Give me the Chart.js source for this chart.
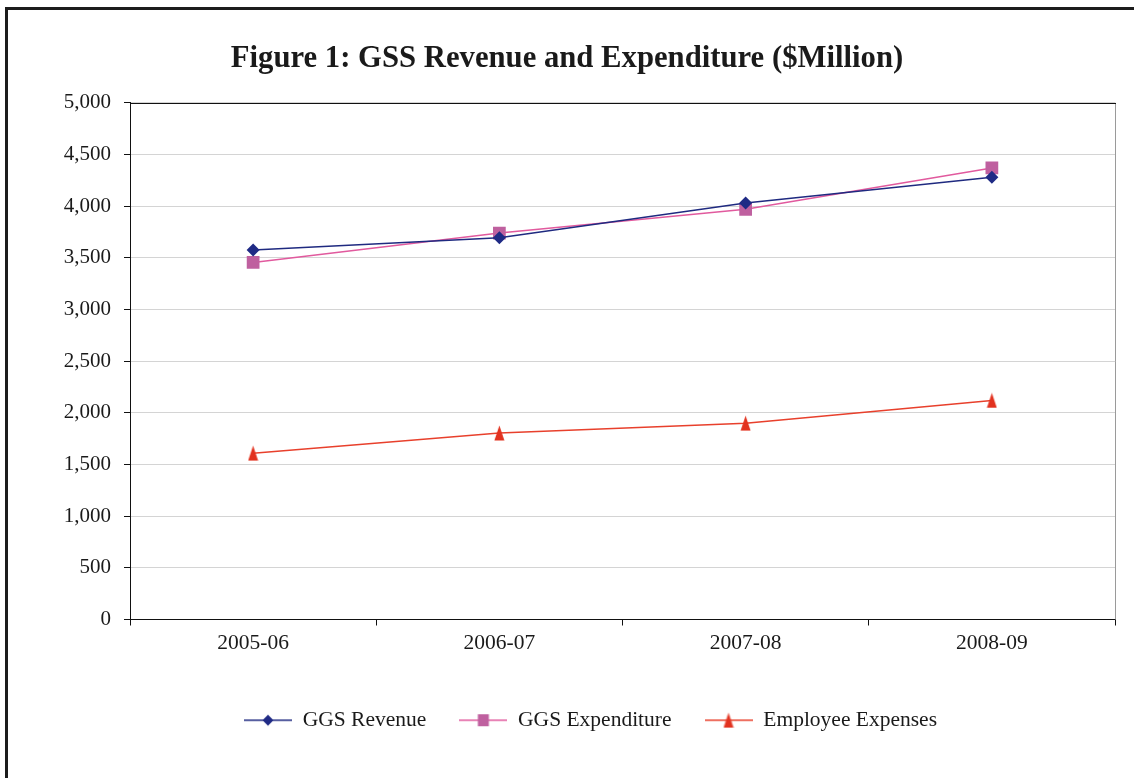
<!DOCTYPE html>
<html>
<head>
<meta charset="utf-8">
<script src="https://cdn.jsdelivr.net/npm/chart.js@4/dist/chart.umd.min.js"></script>
<style>
  html, body { margin: 0; padding: 0; background: #fff; }
  #wrap { position: relative; width: 1134px; height: 778px; overflow: hidden; }
  #frame { position: absolute; left: 5px; top: 7px; width: 1200px; height: 800px;
           border-left: 3px solid #1c1c1c; border-top: 3px solid #1c1c1c; }
  canvas { position: absolute; left: 0; top: 0; }
</style>
</head>
<body>
<div id="wrap">
  <div id="frame"></div>
  <canvas id="chart" width="1134" height="778"></canvas>
</div>
<script>
// Financial years on the horizontal axis
const years = ['2005-06', '2006-07', '2007-08', '2008-09'];

// $ million
const ggsRevenue = [3575, 3695, 4030, 4280];
const ggsExpenditure = [3455, 3740, 3970, 4370];
const employeeExpenses = [1610, 1805, 1900, 2120];

const seriesNames = ['GGS Revenue', 'GGS Expenditure', 'Employee Expenses'];

const FONT = '"Liberation Serif", "DejaVu Serif", serif';
const TEXT = '#1a1a1a';

// Tall, narrow triangle marker
function triangleMarker(color) {
  const c = document.createElement('canvas');
  c.width = 11; c.height = 16;
  const g = c.getContext('2d');
  g.fillStyle = color;
  g.beginPath();
  g.moveTo(5.5, 0.5); g.lineTo(10.5, 15.5); g.lineTo(0.5, 15.5); g.closePath();
  g.fill();
  return c;
}

// Legend swatch: short line with the marker in the middle
function legendSwatch(lineColor, drawMarker) {
  const c = document.createElement('canvas');
  c.width = 48; c.height = 16;
  const g = c.getContext('2d');
  g.strokeStyle = lineColor;
  g.lineWidth = 1.5;
  g.beginPath(); g.moveTo(0, 8); g.lineTo(48, 8); g.stroke();
  drawMarker(g, 24, 8);
  return c;
}

const triRed = triangleMarker('#e2321f');

const swatches = [
  legendSwatch('#1f2a80', (g, x, y) => {
    g.fillStyle = '#1f2a85';
    g.beginPath(); g.moveTo(x - 5.5, y); g.lineTo(x, y - 5.5); g.lineTo(x + 5.5, y); g.lineTo(x, y + 5.5); g.closePath(); g.fill();
  }),
  legendSwatch('#e15a9e', (g, x, y) => {
    g.fillStyle = '#bf609f';
    g.fillRect(x - 5.5, y - 6, 11, 12);
  }),
  legendSwatch('#e8402c', (g, x, y) => {
    g.drawImage(triRed, x - 5.5, y - 8);
  })
];

// Horizontal nudges for the title and legend blocks
const blockShift = {
  id: 'blockShift',
  afterLayout(chart) {
    if (chart.titleBlock) { chart.titleBlock.left += 9.5; chart.titleBlock.right += 9.5; }
    if (chart.legend) { chart.legend.left += 33; chart.legend.right += 33; }
  }
};

// Plot frame and dark top edge
const plotFrame = {
  id: 'plotFrame',
  afterDatasetsDraw(chart) {
    const { ctx, chartArea: a } = chart;
    ctx.save();
    ctx.strokeStyle = '#9a9a9a';
    ctx.lineWidth = 1;
    ctx.beginPath();
    ctx.moveTo(Math.round(a.right) + 0.5, a.top);
    ctx.lineTo(Math.round(a.right) + 0.5, a.bottom);
    ctx.stroke();
    ctx.strokeStyle = '#111';
    ctx.beginPath();
    ctx.moveTo(a.left, Math.round(a.top) + 0.5);
    ctx.lineTo(a.right + 1, Math.round(a.top) + 0.5);
    ctx.stroke();
    ctx.restore();
  }
};

new Chart(document.getElementById('chart'), {
  type: 'line',
  data: {
    labels: years,
    datasets: [
      {
        label: seriesNames[0],
        data: ggsRevenue,
        borderColor: '#1f2a80',
        backgroundColor: '#1f2a85',
        borderWidth: 1.5,
        pointStyle: 'rectRot',
        pointRadius: 6.5,
        pointBorderWidth: 0,
        pointHoverRadius: 6.5,
        tension: 0
      },
      {
        label: seriesNames[1],
        data: ggsExpenditure,
        borderColor: '#e15a9e',
        backgroundColor: '#bf609f',
        borderWidth: 1.5,
        pointStyle: 'rect',
        pointRadius: 9,
        pointBorderWidth: 0,
        pointHoverRadius: 9,
        tension: 0
      },
      {
        label: seriesNames[2],
        data: employeeExpenses,
        borderColor: '#e8402c',
        backgroundColor: '#e2321f',
        borderWidth: 1.5,
        pointStyle: triRed,
        pointRadius: 8,
        pointBorderWidth: 0,
        tension: 0
      }
    ]
  },
  options: {
    responsive: false,
    animation: false,
    events: [],
    layout: { padding: { left: 0, right: 19, top: 0, bottom: 37 } },
    plugins: {
      title: {
        display: true,
        text: 'Figure 1: GSS Revenue and Expenditure ($Million)',
        color: TEXT,
        font: { family: FONT, size: 30.7, weight: 'bold' },
        padding: { top: 41, bottom: 25 }
      },
      legend: {
        position: 'bottom',
        labels: {
          usePointStyle: true,
          pointStyleWidth: 48,
          boxHeight: 16,
          padding: 33,
          color: TEXT,
          font: { family: FONT, size: 21.5 },
          generateLabels(chart) {
            return chart.data.datasets.map((ds, i) => ({
              text: ds.label,
              pointStyle: swatches[i],
              fillStyle: 'transparent',
              strokeStyle: 'transparent',
              lineWidth: 0,
              fontColor: TEXT,
              hidden: false,
              datasetIndex: i
            }));
          }
        }
      },
      tooltip: { enabled: false }
    },
    scales: {
      x: {
        offset: true,
        afterFit(scale) { scale.height = 57; },
        grid: {
          offset: true,
          drawOnChartArea: false,
          drawTicks: true,
          tickLength: 6,
          tickColor: '#111',
          color: '#111'
        },
        border: { color: '#111', width: 1 },
        ticks: { color: TEXT, font: { family: FONT, size: 21.5 }, padding: 5, maxRotation: 0 }
      },
      y: {
        min: 0,
        max: 5000,
        afterFit(scale) { scale.width = 130; },
        grid: {
          color: '#d4d4d4',
          lineWidth: 1,
          tickLength: 6,
          tickColor: '#111'
        },
        border: { color: '#111', width: 1 },
        ticks: {
          stepSize: 500,
          color: TEXT,
          font: { family: FONT, size: 21 },
          padding: 13
        }
      }
    }
  },
  plugins: [blockShift, plotFrame]
});
</script>
</body>
</html>
